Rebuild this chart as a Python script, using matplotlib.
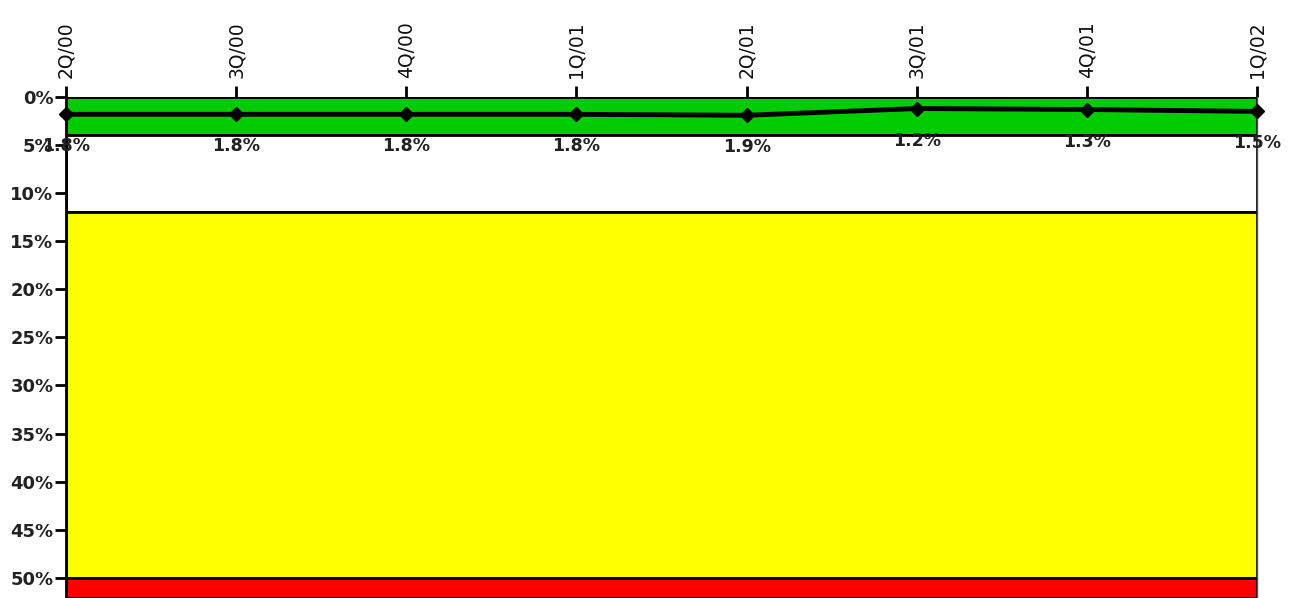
import matplotlib.pyplot as plt

# quarters and values (percent)
quarters = ['2Q/00', '3Q/00', '4Q/00', '1Q/01', '2Q/01', '3Q/01', '4Q/01', '1Q/02']
values = [1.8, 1.8, 1.8, 1.8, 1.9, 1.2, 1.3, 1.5]
value_labels = ['1.8%', '1.8%', '1.8%', '1.8%', '1.9%', '1.2%', '1.3%', '1.5%']

# background bands (from, to, colour)
band_edges = [0, 4, 12, 50, 52.1]
band_colors = ['#00CC00', '#FFFFFF', '#FFFF00', '#FF0000']

yticks = [0, 5, 10, 15, 20, 25, 30, 35, 40, 45, 50]

plt.rcParams['font.family'] = ['DejaVu Sans']

fig = plt.figure(figsize=(12.91, 5.98), dpi=100)
ax = fig.add_axes([66/1291, 0, (1257-66)/1291, 1 - 97/598])

x = list(range(len(quarters)))

for i in range(len(band_colors)):
    ax.axhspan(band_edges[i], band_edges[i+1], facecolor=band_colors[i],
               edgecolor='black', linewidth=2, zorder=1)

ax.plot(x, values, color='black', linewidth=3.5, marker='D', markersize=7,
        zorder=5, clip_on=False)

for xi, v, lab in zip(x, values, value_labels):
    ax.annotate(lab, (xi, v), xytext=(0, -32), textcoords='offset pixels',
                ha='center', va='center', fontsize=12.5, fontweight='bold',
                color='#222222', zorder=6, annotation_clip=False)

ax.set_xlim(0, 7)
ax.set_ylim(52.1, 0)

ax.xaxis.tick_top()
ax.set_xticks(x)
ax.set_xticklabels(quarters, rotation=90, fontsize=13.5, color='#111111')
ax.tick_params(axis='x', direction='out', length=8, width=2, pad=6)

ax.set_yticks(yticks)
ax.set_yticklabels([str(t) + '%' for t in yticks], fontsize=13, fontweight='bold', color='#222222')
ax.tick_params(axis='y', direction='out', length=8, width=2, pad=1)

for s in ['top', 'bottom']:
    ax.spines[s].set_visible(False)
ax.spines['left'].set_linewidth(2)
ax.spines['right'].set_linewidth(1)
ax.spines['right'].set_color('#555555')

fig.savefig('out.png', dpi=100)
